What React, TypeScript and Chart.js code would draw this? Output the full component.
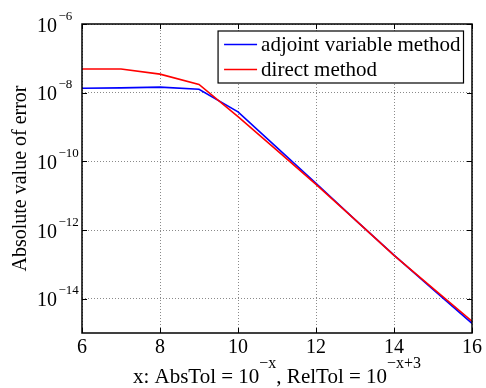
import React, { useEffect, useRef } from "react";
import { Chart, registerables } from "chart.js";

Chart.register(...registerables);

const FONT = "'Liberation Serif', 'Times New Roman', serif";

// ---- data ----
const xValues = [6, 7, 8, 9, 10, 11, 12, 13, 14, 15, 16];
const adjointErr = [1.35e-8, 1.38e-8, 1.45e-8, 1.26e-8, 2.75e-9, 2.5e-10, 2.3e-11, 2.0e-12, 1.86e-13, 1.86e-14, 1.9e-15];
const directErr = [4.9e-8, 4.9e-8, 3.47e-8, 1.74e-8, 2.0e-9, 2.1e-10, 2.14e-11, 2.0e-12, 1.82e-13, 2.0e-14, 2.2e-15];
const seriesLabels = ["adjoint variable method", "direct method"];
const seriesColors = ["#0000ff", "#ff0000"];
const xTickValues = [6, 8, 10, 12, 14, 16];
const yTickExponents = [-6, -8, -10, -12, -14];
const yMinExp = -15;
const yMaxExp = -6;
const yAxisTitle = "Absolute value of error";
const xTitleParts: [string, string][] = [
  ["x: AbsTol = 10", "\u2212x"],
  [", RelTol = 10", "\u2212x+3"],
];

const matlabPlugin = {
  id: "matlabDecor",
  afterDraw(chart: any) {
    const { ctx, chartArea: a, scales } = chart;
    const xs = scales.x;
    const ys = scales.y;
    ctx.save();
    // inward tick marks
    ctx.strokeStyle = "#000";
    ctx.lineWidth = 1;
    ctx.beginPath();
    for (const t of xs.ticks) {
      const px = Math.round(xs.getPixelForValue(t.value)) + 0.5;
      ctx.moveTo(px, a.bottom);
      ctx.lineTo(px, a.bottom - 5);
      ctx.moveTo(px, a.top);
      ctx.lineTo(px, a.top + 5);
    }
    for (const t of ys.ticks) {
      const py = Math.round(ys.getPixelForValue(t.value)) + 0.5;
      ctx.moveTo(a.left, py);
      ctx.lineTo(a.left + 5, py);
      ctx.moveTo(a.right, py);
      ctx.lineTo(a.right - 5, py);
    }
    ctx.stroke();
    // box
    ctx.lineWidth = 1.5;
    ctx.strokeRect(a.left, a.top, a.right - a.left, a.bottom - a.top);

    // y tick labels with superscripts
    ctx.fillStyle = "#000";
    ctx.textAlign = "left";
    ctx.textBaseline = "alphabetic";
    for (const t of ys.ticks) {
      const py = ys.getPixelForValue(t.value);
      const e = Math.round(Math.log10(t.value));
      ctx.font = `20px ${FONT}`;
      ctx.fillText("10", 37, py + 7.5);
      const w = ctx.measureText("10").width;
      ctx.font = `13px ${FONT}`;
      ctx.fillText((e < 0 ? "\u2212" : "") + Math.abs(e), 37 + w + 1.5, py - 4.5);
    }

    // x axis title with superscripts
    let total = 0;
    for (const [base, sup] of xTitleParts) {
      ctx.font = `21px ${FONT}`;
      total += ctx.measureText(base).width;
      ctx.font = `16px ${FONT}`;
      total += ctx.measureText(sup).width;
    }
    let cx = (a.left + a.right) / 2 - total / 2;
    const baseY = 383;
    for (const [base, sup] of xTitleParts) {
      ctx.font = `21px ${FONT}`;
      ctx.fillText(base, cx, baseY);
      cx += ctx.measureText(base).width;
      ctx.font = `16px ${FONT}`;
      ctx.fillText(sup, cx, baseY - 15);
      cx += ctx.measureText(sup).width;
    }

    // legend box
    const ds = chart.data.datasets;
    ctx.font = `21px ${FONT}`;
    let maxW = 0;
    for (const d of ds) maxW = Math.max(maxW, ctx.measureText(d.label).width);
    const boxW = 43 + maxW + 3;
    const boxH = 52;
    const bx = a.right - 8.5 - boxW;
    const by = a.top + 7;
    ctx.fillStyle = "#fff";
    ctx.fillRect(bx, by, boxW, boxH);
    ctx.lineWidth = 1.2;
    ctx.strokeStyle = "#000";
    ctx.strokeRect(bx, by, boxW, boxH);
    ds.forEach((d: any, i: number) => {
      const ly = by + 13.5 + i * 25;
      ctx.strokeStyle = d.borderColor;
      ctx.lineWidth = 1.5;
      ctx.beginPath();
      ctx.moveTo(bx + 6, ly);
      ctx.lineTo(bx + 39, ly);
      ctx.stroke();
      ctx.fillStyle = "#000";
      ctx.fillText(d.label, bx + 43, ly + 6);
    });
    ctx.restore();
  },
};

export default function App() {
  const ref = useRef<HTMLCanvasElement>(null);
  useEffect(() => {
    if (!ref.current) return;
    const chart = new Chart(ref.current, {
      type: "line",
      data: {
        datasets: [
          {
            label: seriesLabels[0],
            data: xValues.map((x, i) => ({ x, y: adjointErr[i] })),
            borderColor: seriesColors[0],
            backgroundColor: seriesColors[0],
            borderWidth: 1.6,
            pointRadius: 0,
            tension: 0,
            order: 1,
          },
          {
            label: seriesLabels[1],
            data: xValues.map((x, i) => ({ x, y: directErr[i] })),
            borderColor: seriesColors[1],
            backgroundColor: seriesColors[1],
            borderWidth: 1.6,
            pointRadius: 0,
            tension: 0,
            order: 0,
          },
        ],
      },
      options: {
        animation: false,
        responsive: false,
        devicePixelRatio: 1,
        layout: { padding: { left: 0, right: 14, top: 24, bottom: 0 } },
        plugins: { legend: { display: false }, tooltip: { enabled: false } },
        scales: {
          x: {
            type: "linear",
            min: 6,
            max: 16,
            afterBuildTicks: (s: any) => {
              s.ticks = xTickValues.map((v) => ({ value: v }));
            },
            afterFit: (s: any) => {
              s.height = 55;
            },
            ticks: {
              font: { family: FONT, size: 20 },
              color: "#000",
              padding: 3,
              maxRotation: 0,
              autoSkip: false,
            },
            grid: { color: "#8a8a8a", lineWidth: 1, drawTicks: false },
            border: { display: false, dash: [1, 2] },
          },
          y: {
            type: "logarithmic",
            min: Math.pow(10, yMinExp),
            max: Math.pow(10, yMaxExp),
            afterBuildTicks: (s: any) => {
              s.ticks = yTickExponents.map((e) => ({ value: Math.pow(10, e) }));
            },
            afterFit: (s: any) => {
              s.width = 82;
            },
            ticks: {
              display: false,
              callback: (v: any) => "10^" + Math.round(Math.log10(Number(v))),
            },
            grid: { color: "#8a8a8a", lineWidth: 1, drawTicks: false },
            border: { display: false, dash: [1, 2] },
            title: {
              display: true,
              text: yAxisTitle,
              color: "#000",
              font: { family: FONT, size: 20, weight: "normal" },
              padding: { top: 9, bottom: 0 },
            },
          },
        },
      },
      plugins: [matlabPlugin],
    } as any);
    return () => chart.destroy();
  }, []);
  return (
    <div style={{ position: "fixed", left: 0, top: 0, width: 486, height: 388, background: "#fff" }}>
      <canvas ref={ref} width={486} height={388} style={{ display: "block" }} />
    </div>
  );
}
